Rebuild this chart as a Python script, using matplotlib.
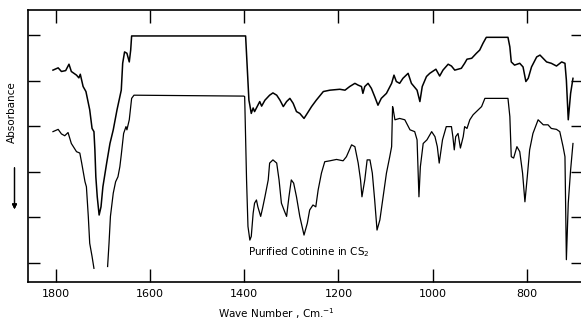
import numpy as np
import matplotlib
matplotlib.use("Agg")
import matplotlib.pyplot as plt

# upper trace (wave number in cm-1, absorbance in chart units, larger = further down)
upper_wn = [1806, 1795, 1788, 1779, 1772, 1767, 1756, 1751, 1748, 1742, 1736, 1728,
            1723, 1719, 1717, 1715, 1712, 1708, 1704, 1700, 1692, 1685, 1678, 1670,
            1661, 1658, 1654, 1649, 1644, 1641, 1639, 1397, 1390, 1388, 1385, 1381,
            1378, 1371, 1367, 1363, 1356, 1346, 1339, 1331, 1324, 1317, 1310, 1303,
            1296, 1289, 1282, 1273, 1268, 1257, 1247, 1232, 1218, 1197, 1186, 1176,
            1165, 1158, 1151, 1148, 1144, 1137, 1130, 1123, 1116, 1109, 1098, 1087,
            1082, 1077, 1070, 1063, 1052, 1045, 1033, 1027, 1022, 1013, 1006, 993,
            985, 978, 967, 960, 953, 946, 939, 932, 927, 917, 907, 900, 893, 886,
            840, 836, 833, 826, 815, 808, 802, 797, 790, 779, 772, 758, 748, 737,
            726, 719, 716, 712, 707, 702]
upper_abs = [0.77, 0.72, 0.80, 0.78, 0.64, 0.80, 0.88, 0.94, 0.86, 1.13, 1.24, 1.64,
             2.05, 2.12, 2.52, 3.11, 3.55, 3.95, 3.77, 3.33, 2.81, 2.38, 2.08, 1.64,
             1.21, 0.62, 0.37, 0.40, 0.59, 0.33, 0.02, 0.02, 1.43, 1.54, 1.72, 1.60,
             1.68, 1.54, 1.46, 1.56, 1.43, 1.32, 1.27, 1.32, 1.43, 1.57, 1.46, 1.39,
             1.50, 1.68, 1.72, 1.83, 1.75, 1.57, 1.43, 1.24, 1.21, 1.19, 1.21, 1.13,
             1.06, 1.10, 1.13, 1.28, 1.13, 1.06, 1.17, 1.35, 1.54, 1.39, 1.28, 1.06,
             0.88, 1.02, 1.06, 0.95, 0.84, 1.06, 1.21, 1.46, 1.13, 0.91, 0.84, 0.75,
             0.90, 0.77, 0.64, 0.68, 0.77, 0.75, 0.73, 0.62, 0.53, 0.51, 0.40, 0.33,
             0.18, 0.05, 0.05, 0.26, 0.59, 0.66, 0.62, 0.70, 1.02, 0.95, 0.70, 0.48,
             0.44, 0.59, 0.62, 0.68, 0.59, 0.62, 0.99, 1.86, 1.28, 0.95]

# lower trace; the pen left no mark between the two carbonyl bands (NaN gap)
lower_wn = [1806, 1795, 1788, 1781, 1774, 1767, 1756, 1749, 1745, 1738, 1735, 1731,
            1728, 1723, 1719, 1705, 1690, 1687, 1684, 1678, 1673, 1668, 1664, 1661,
            1656, 1651, 1649, 1644, 1639, 1634, 1401, 1399, 1395, 1392, 1388, 1385,
            1381, 1378, 1374, 1371, 1365, 1361, 1356, 1349, 1346, 1339, 1331, 1326,
            1321, 1314, 1310, 1305, 1300, 1295, 1289, 1282, 1273, 1266, 1261, 1254,
            1248, 1243, 1236, 1229, 1218, 1204, 1190, 1183, 1172, 1165, 1158, 1153,
            1150, 1144, 1139, 1133, 1128, 1123, 1118, 1112, 1105, 1098, 1091, 1087,
            1085, 1084, 1080, 1070, 1059, 1048, 1038, 1033, 1029, 1026, 1020, 1012,
            1002, 995, 990, 986, 979, 971, 960, 957, 954, 951, 946, 941, 935, 932,
            927, 921, 914, 907, 896, 889, 840, 836, 833, 828, 821, 815, 809, 804,
            799, 794, 787, 776, 765, 755, 748, 737, 730, 723, 719, 717, 716, 712,
            707, 702]
lower_abs = [2.12, 2.07, 2.17, 2.21, 2.14, 2.38, 2.56, 2.59, 2.81, 3.22, 3.33, 3.98,
             4.57, 4.86, 5.12, np.nan, 5.08, 4.57, 3.98, 3.47, 3.22, 3.11, 2.89, 2.63,
             2.16, 2.01, 2.08, 1.86, 1.39, 1.32, 1.34, 1.35, 3.18, 4.20, 4.50, 4.42,
             3.91, 3.69, 3.62, 3.77, 3.98, 3.80, 3.55, 3.18, 2.81, 2.74, 2.81, 3.18,
             3.69, 3.88, 3.98, 3.55, 3.18, 3.25, 3.55, 3.98, 4.39, 4.13, 3.84, 3.73,
             3.77, 3.40, 3.03, 2.78, 2.76, 2.73, 2.76, 2.67, 2.41, 2.45, 2.81, 3.18,
             3.55, 3.18, 2.74, 2.74, 3.03, 3.62, 4.28, 4.06, 3.55, 3.03, 2.67, 2.45,
             1.57, 1.61, 1.86, 1.83, 1.86, 2.08, 2.12, 2.30, 3.55, 2.89, 2.38, 2.30,
             2.12, 2.23, 2.45, 2.81, 2.30, 2.01, 2.01, 2.23, 2.52, 2.23, 2.16, 2.48,
             2.23, 2.01, 2.05, 1.86, 1.75, 1.68, 1.57, 1.39, 1.39, 1.79, 2.67, 2.70,
             2.45, 2.56, 3.03, 3.66, 3.11, 2.52, 2.16, 1.86, 1.97, 1.97, 2.05, 2.07,
             2.12, 2.45, 2.67, 4.13, 4.93, 3.69, 2.96, 2.38]

x_ticks = [1800, 1600, 1400, 1200, 1000, 800]
y_ticks = [0, 1, 2, 3, 4, 5]

fig = plt.figure(figsize=(5.81, 3.21), dpi=100)
ax = fig.add_axes([0.0482, 0.1215, 0.955, 0.8474])

ax.plot(upper_wn, upper_abs, color="black", lw=1.1)
ax.plot(lower_wn, lower_abs, color="black", lw=0.9)

ax.set_xlim(1859, 681)
ax.set_ylim(5.42, -0.55)
ax.set_xticks(x_ticks)
ax.set_yticks(y_ticks)
ax.set_yticklabels([])
ax.tick_params(axis="x", direction="in", length=9.5, width=1, top=True,
               labelsize=8, pad=5)
ax.tick_params(axis="y", direction="in", length=8.5, width=1, right=True)
for s in ax.spines.values():
    s.set_linewidth(1.2)

ax.text(1392, 4.76, r"Purified Cotinine in CS$_2$", fontsize=7.5, ha="left", va="center")

fig.text(276 / 581, 1 - 314 / 321, r"Wave Number , Cm.$^{-1}$", fontsize=7.5,
         ha="center", va="center")
fig.text(12 / 581, 1 - 112 / 321, "Absorbance", fontsize=7.5, rotation=90,
         ha="center", va="center")
fig.add_artist(plt.annotate("", xy=(14.5 / 581, 1 - 212 / 321), xytext=(14.5 / 581, 1 - 165 / 321),
                            xycoords="figure fraction", textcoords="figure fraction",
                            arrowprops=dict(arrowstyle="-|>", color="black", lw=0.9,
                                            mutation_scale=7)))

fig.savefig("out.png", dpi=100)
